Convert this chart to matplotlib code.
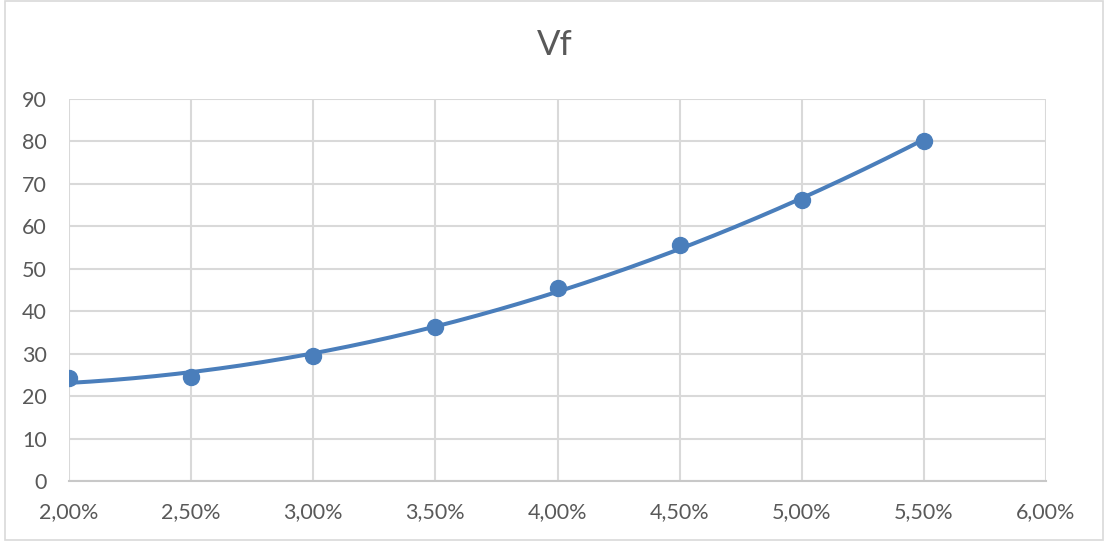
import numpy as np
import matplotlib
matplotlib.use("Agg")
import matplotlib.pyplot as plt
from matplotlib.patches import Rectangle
from matplotlib.ticker import FuncFormatter, MultipleLocator

plt.rcParams['font.family'] = ['Lato', 'DejaVu Sans']

# Data
rates = [0.020, 0.025, 0.030, 0.035, 0.040, 0.045, 0.050, 0.055]
vf = [24.2, 24.4, 29.4, 36.3, 45.4, 55.5, 66.2, 80.2]
title = "Vf"

blue = "#4A7EBB"
grid = "#D9D9D9"
text = "#595959"

fig = plt.figure(figsize=(11.10, 5.41), dpi=100)
fig.patches.append(Rectangle((5 / 1110, 1 / 541), 1098 / 1110, 539 / 541,
                             transform=fig.transFigure, fill=False,
                             edgecolor=grid, linewidth=1.2))

ax = fig.add_axes([69 / 1110, 60 / 541, 977 / 1110, 382 / 541])

# second-order polynomial trendline through the points
coef = np.polyfit(rates, vf, 2)
xs = np.linspace(rates[0], rates[-1], 200)
ax.plot(xs, np.polyval(coef, xs), color=blue, linewidth=2.9, zorder=3,
        solid_capstyle='round')
ax.plot(rates, vf, linestyle='none', marker='o', markersize=11.5,
        color=blue, zorder=4)

ax.set_xlim(0.02, 0.06)
ax.set_ylim(0, 90)
ax.xaxis.set_major_locator(MultipleLocator(0.005))
ax.yaxis.set_major_locator(MultipleLocator(10))
ax.xaxis.set_major_formatter(FuncFormatter(
    lambda v, p: f"{v * 100:.2f}%".replace('.', ',')))

ax.grid(True, color=grid, linewidth=1.5, zorder=0)
ax.set_axisbelow(True)
for side in ('top', 'right', 'left'):
    ax.spines[side].set_visible(False)
ax.spines['bottom'].set_color("#C8C8C8")
ax.spines['bottom'].set_linewidth(1.5)

ax.tick_params(axis='both', length=0, labelsize=15.5, labelcolor=text)
ax.tick_params(axis='x', pad=15)
ax.tick_params(axis='y', pad=16)

fig.text(0.5, 1 - 45 / 541, title, ha='center', va='center',
         fontsize=25, color=text)

fig.savefig("out.png", dpi=100, facecolor='white')
